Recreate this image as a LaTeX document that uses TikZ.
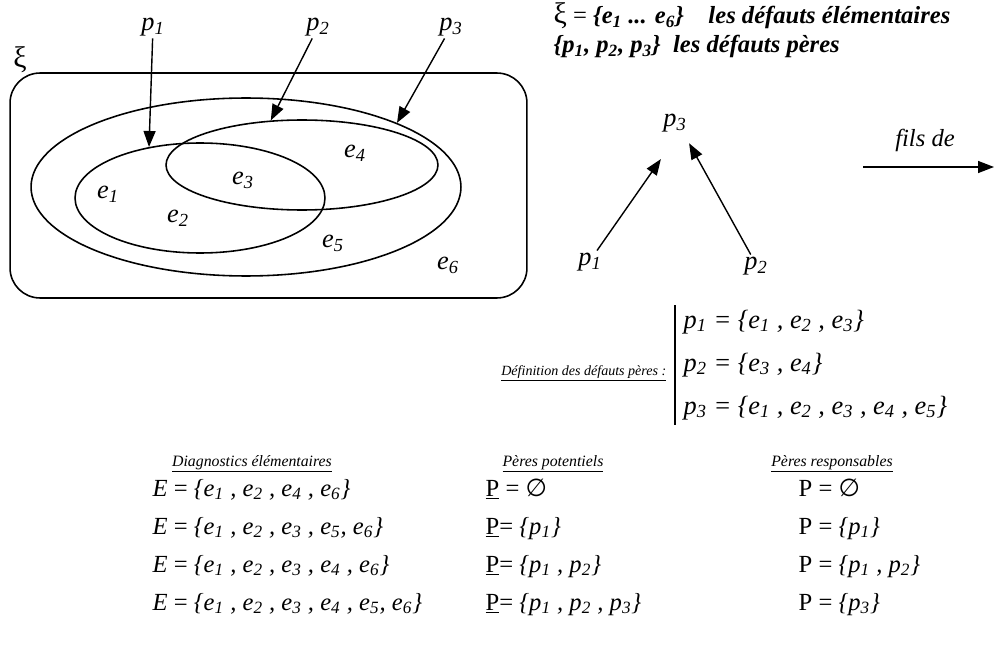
\documentclass[tikz,border=0pt]{standalone}
\usepackage{fontspec}
\setmainfont{Liberation Serif}
\newfontfamily\symfont{DejaVu Sans}
\usetikzlibrary{shapes.geometric, arrows.meta, positioning}

\newcommand{\ee}[1]{\textit{e}\textsubscript{\textit{#1}}}
\newcommand{\pp}[1]{\textit{p}\textsubscript{\textit{#1}}}
\newcommand{\vide}{{\symfont ∅}}

\begin{document}
\begin{tikzpicture}[
  x=0.02cm, y=-0.02cm,
  >={Triangle[length=3.2mm, width=2.4mm]},
  line width=0.8pt,
  lab/.style={font=\fontsize{15}{18}\selectfont\itshape, inner sep=1pt},
  formule/.style={font=\fontsize{14}{17}\selectfont\itshape, anchor=base west, inner sep=0pt},
  titre/.style={font=\fontsize{9}{11}\selectfont\itshape, anchor=base, inner sep=0pt},
  legende/.style={font=\fontsize{14}{17}\selectfont\bfseries\itshape, anchor=base west, inner sep=0pt},
  ensemble/.style={ellipse, draw, inner sep=0pt, line width=0.9pt},
  univers/.style={rectangle, draw, rounded corners=0.6cm, minimum width=10.34cm, minimum height=4.5cm, line width=0.9pt}
]
  \useasboundingbox (0,0) rectangle (995,652);

  % diagramme des ensembles
  \node[univers] (xi) at (268.5,185.5) {};
  \node[font=\fontsize{17}{20}\selectfont] (lxi) at (20,60) {ξ};
  \node[ensemble, minimum width=8.6cm, minimum height=3.56cm] (setp3) at (246,187) {};
  \node[ensemble, minimum width=5cm, minimum height=2.2cm] (setp1) at (200,198) {};
  \node[ensemble, minimum width=5.44cm, minimum height=1.8cm] (setp2) at (302,165) {};
  \node[lab] (e1) at (108,194) {\ee{1}};
  \node[lab] (e2) at (178,218) {\ee{2}};
  \node[lab] (e3) at (243,180) {\ee{3}};
  \node[lab] (e4) at (355,153) {\ee{4}};
  \node[lab] (e5) at (333,243) {\ee{5}};
  \node[lab] (e6) at (448,265) {\ee{6}};
  \node[lab] (lp1) at (153,27) {\pp{1}};
  \node[lab] (lp2) at (318,27) {\pp{2}};
  \node[lab] (lp3) at (451,27) {\pp{3}};
  \draw[->] (lp1) -- (setp1.135);
  \draw[->] (lp2) -- (setp2.125);
  \draw[->] (lp3) -- (setp3.23);

  % legende
  \node[legende] (defelem) at (553,24) {{\mdseries\upshape\fontsize{17}{17}\selectfont ξ} {\mdseries\upshape =} \{\ee{1} ... \ee{6}\}\quad les défauts élémentaires};
  \node[legende] (defperes) at (553,53) {\{\pp{1}, \pp{2}, \pp{3}\}\ \ les défauts pères};

  % graphe des peres
  \node[lab] (g3) at (675,123) {\pp{3}};
  \node[lab] (g1) at (590,262) {\pp{1}};
  \node[lab] (g2) at (756,266) {\pp{2}};
  \draw[->] ([xshift=4pt]g1.north) -- ([yshift=-14pt]g3.south west);
  \draw[->] ([xshift=-3pt]g2.north) -- ([yshift=-5pt]g3.south east);
  \node[legende, font=\fontsize{14}{17}\selectfont\itshape, anchor=base] (filsde) at (925,147) {fils de};
  \coordinate (fa) at (863,167);
  \coordinate (fb) at (994,167);
  \draw[->] (fa) -- (fb);

  % definition des peres
  \node[titre, font=\fontsize{8}{10}\selectfont\itshape, anchor=base east] (defin) at (667,375) {\underline{Définition des défauts pères :}};
  \draw (675,305) -- (675,425);
  \node[formule, font=\fontsize{15}{18}\selectfont\itshape] (d1) at (683,328) {\pp{1} = \{\ee{1} , \ee{2} , \ee{3}\}};
  \node[formule, font=\fontsize{15}{18}\selectfont\itshape] (d2) at (683,371) {\pp{2} = \{\ee{3} , \ee{4}\}};
  \node[formule, font=\fontsize{15}{18}\selectfont\itshape] (d3) at (683,414) {\pp{3} = \{\ee{1} , \ee{2} , \ee{3} , \ee{4} , \ee{5}\}};

  % tableau des diagnostics
  \node[titre] (hdiag) at (252,466) {\underline{Diagnostics élémentaires}};
  \node[titre] (hpot) at (553,466) {\underline{Pères potentiels}};
  \node[titre] (hresp) at (832,466) {\underline{Pères responsables}};

  \node[formule] (diag1) at (152,496) {E {\upshape =} \{\ee{1} , \ee{2} , \ee{4} , \ee{6}\}};
  \node[formule] (diag2) at (152,534) {E {\upshape =} \{\ee{1} , \ee{2} , \ee{3} , \ee{5}, \ee{6}\}};
  \node[formule] (diag3) at (152,572) {E {\upshape =} \{\ee{1} , \ee{2} , \ee{3} , \ee{4} , \ee{6}\}};
  \node[formule] (diag4) at (152,610) {E {\upshape =} \{\ee{1} , \ee{2} , \ee{3} , \ee{4} , \ee{5}, \ee{6}\}};

  \node[formule] (pot1) at (485,496) {{\upshape\underline{P} =} \vide};
  \node[formule] (pot2) at (485,534) {{\upshape\underline{P}=} \{\pp{1}\}};
  \node[formule] (pot3) at (485,572) {{\upshape\underline{P}=} \{\pp{1} , \pp{2}\}};
  \node[formule] (pot4) at (485,610) {{\upshape\underline{P}=} \{\pp{1} , \pp{2} , \pp{3}\}};

  \node[formule] (resp1) at (798,496) {{\upshape P =} \vide};
  \node[formule] (resp2) at (798,534) {{\upshape P =} \{\pp{1}\}};
  \node[formule] (resp3) at (798,572) {{\upshape P =} \{\pp{1} , \pp{2}\}};
  \node[formule] (resp4) at (798,610) {{\upshape P =} \{\pp{3}\}};
\end{tikzpicture}
\end{document}
